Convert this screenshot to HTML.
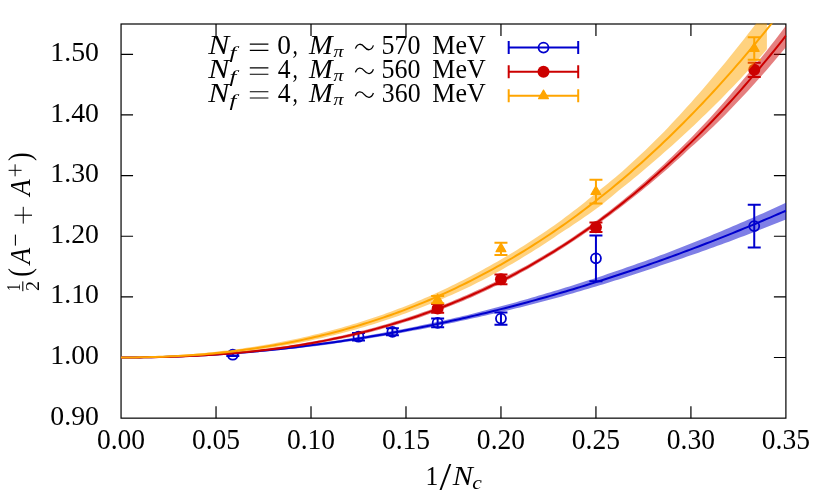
<!DOCTYPE html>
<html><head><meta charset="utf-8"><title>plot</title><style>html,body{margin:0;padding:0;background:#fff}body{width:829px;height:499px;position:relative;overflow:hidden;font-family:"Liberation Serif",serif}</style></head><body>
<svg width="829" height="499" viewBox="0 0 829 499" style="position:absolute;left:0;top:0">
<defs><clipPath id="cp"><rect x="120.45" y="23.40" width="666.05" height="395.35"/></clipPath><clipPath id="cpo"><rect x="0" y="0" width="766.9" height="499"/></clipPath></defs>
<rect width="829" height="499" fill="#fff"/>
<path d="M216.03 418.15v-12M216.03 24.0v12M311.01 418.15v-12M311.01 24.0v12M405.99 418.15v-12M405.99 24.0v12M500.96 418.15v-12M500.96 24.0v12M595.94 418.15v-12M595.94 24.0v12M690.92 418.15v-12M690.92 24.0v12M121.05 357.51h12M785.9 357.51h-12M121.05 296.87h12M785.9 296.87h-12M121.05 236.23h12M785.9 236.23h-12M121.05 175.60h12M785.9 175.60h-12M121.05 114.96h12M785.9 114.96h-12M121.05 54.32h12M785.9 54.32h-12" stroke="#000" stroke-width="1.2" fill="none"/>
<rect x="121.05" y="24.0" width="664.85" height="394.15" fill="none" stroke="#000" stroke-width="1.2"/>
<g clip-path="url(#cp)">
<path d="M121.05 357.21 L124.85 357.19 L128.65 357.15 L132.45 357.11 L136.25 357.06 L140.05 356.99 L143.84 356.92 L147.64 356.84 L151.44 356.75 L155.24 356.64 L159.04 356.53 L162.84 356.41 L166.64 356.28 L170.44 356.14 L174.24 355.99 L178.04 355.83 L181.84 355.66 L185.64 355.48 L189.43 355.29 L193.23 355.09 L197.03 354.88 L200.83 354.66 L204.63 354.43 L208.43 354.19 L212.23 353.94 L216.03 353.68 L219.83 353.42 L223.63 353.14 L227.43 352.85 L231.23 352.56 L235.02 352.25 L238.82 351.93 L242.62 351.61 L246.42 351.27 L250.22 350.93 L254.02 350.57 L257.82 350.21 L261.62 349.83 L265.42 349.45 L269.22 349.06 L273.02 348.65 L276.81 348.24 L280.61 347.82 L284.41 347.39 L288.21 346.95 L292.01 346.49 L295.81 346.03 L299.61 345.56 L303.41 345.08 L307.21 344.59 L311.01 344.09 L314.81 343.58 L318.61 343.07 L322.40 342.54 L326.20 342.00 L330.00 341.45 L333.80 340.90 L337.60 340.33 L341.40 339.75 L345.20 339.17 L349.00 338.57 L352.80 337.97 L356.60 337.35 L360.40 336.73 L364.20 336.09 L367.99 335.44 L371.79 334.78 L375.59 334.11 L379.39 333.43 L383.19 332.74 L386.99 332.05 L390.79 331.34 L394.59 330.62 L398.39 329.90 L402.19 329.16 L405.99 328.42 L409.78 327.66 L413.58 326.90 L417.38 326.13 L421.18 325.34 L424.98 324.55 L428.78 323.75 L432.58 322.94 L436.38 322.12 L440.18 321.28 L443.98 320.44 L447.78 319.60 L451.58 318.74 L455.37 317.87 L459.17 316.99 L462.97 316.10 L466.77 315.19 L470.57 314.24 L474.37 313.28 L478.17 312.31 L481.97 311.34 L485.77 310.35 L489.57 309.36 L493.37 308.35 L497.17 307.34 L500.96 306.32 L504.76 305.28 L508.56 304.24 L512.36 303.19 L516.16 302.13 L519.96 301.06 L523.76 299.98 L527.56 298.89 L531.36 297.79 L535.16 296.68 L538.96 295.57 L542.75 294.44 L546.55 293.31 L550.35 292.18 L554.15 291.04 L557.95 289.89 L561.75 288.73 L565.55 287.57 L569.35 286.39 L573.15 285.20 L576.95 284.01 L580.75 282.80 L584.55 281.59 L588.34 280.36 L592.14 279.13 L595.94 277.89 L599.74 276.64 L603.54 275.38 L607.34 274.11 L611.14 272.83 L614.94 271.54 L618.74 270.24 L622.54 268.93 L626.34 267.61 L630.14 266.29 L633.93 264.95 L637.73 263.61 L641.53 262.25 L645.33 260.89 L649.13 259.52 L652.93 258.13 L656.73 256.74 L660.53 255.34 L664.33 253.93 L668.13 252.48 L671.93 251.02 L675.72 249.55 L679.52 248.07 L683.32 246.58 L687.12 245.08 L690.92 243.57 L694.72 242.05 L698.52 240.52 L702.32 238.98 L706.12 237.44 L709.92 235.88 L713.72 234.32 L717.52 232.74 L721.31 231.16 L725.11 229.57 L728.91 227.96 L732.71 226.35 L736.51 224.73 L740.31 223.10 L744.11 221.47 L747.91 219.82 L751.71 218.16 L755.51 216.49 L759.31 214.82 L763.11 213.13 L766.90 211.44 L770.70 209.74 L774.50 208.02 L778.30 206.30 L782.10 204.57 L785.90 202.83 L785.90 219.43 L782.10 220.97 L778.30 222.51 L774.50 224.04 L770.70 225.55 L766.90 227.06 L763.11 228.56 L759.31 230.05 L755.51 231.53 L751.71 233.00 L747.91 234.47 L744.11 235.92 L740.31 237.36 L736.51 238.80 L732.71 240.22 L728.91 241.64 L725.11 243.05 L721.31 244.44 L717.52 245.83 L713.72 247.21 L709.92 248.58 L706.12 249.94 L702.32 251.30 L698.52 252.64 L694.72 253.97 L690.92 255.29 L687.12 256.61 L683.32 257.91 L679.52 259.21 L675.72 260.50 L671.93 261.77 L668.13 263.04 L664.33 264.31 L660.53 265.62 L656.73 266.92 L652.93 268.21 L649.13 269.49 L645.33 270.76 L641.53 272.03 L637.73 273.28 L633.93 274.52 L630.14 275.76 L626.34 276.98 L622.54 278.20 L618.74 279.40 L614.94 280.60 L611.14 281.79 L607.34 282.97 L603.54 284.14 L599.74 285.30 L595.94 286.45 L592.14 287.59 L588.34 288.72 L584.55 289.84 L580.75 290.96 L576.95 292.06 L573.15 293.15 L569.35 294.24 L565.55 295.31 L561.75 296.38 L557.95 297.44 L554.15 298.48 L550.35 299.52 L546.55 300.55 L542.75 301.56 L538.96 302.55 L535.16 303.54 L531.36 304.51 L527.56 305.48 L523.76 306.44 L519.96 307.38 L516.16 308.32 L512.36 309.25 L508.56 310.17 L504.76 311.08 L500.96 311.98 L497.17 312.87 L493.37 313.75 L489.57 314.62 L485.77 315.48 L481.97 316.33 L478.17 317.18 L474.37 318.01 L470.57 318.83 L466.77 319.65 L462.97 320.48 L459.17 321.31 L455.37 322.14 L451.58 322.96 L447.78 323.77 L443.98 324.56 L440.18 325.35 L436.38 326.13 L432.58 326.90 L428.78 327.67 L424.98 328.42 L421.18 329.16 L417.38 329.89 L413.58 330.61 L409.78 331.33 L405.99 332.03 L402.19 332.73 L398.39 333.41 L394.59 334.09 L390.79 334.75 L386.99 335.41 L383.19 336.05 L379.39 336.69 L375.59 337.32 L371.79 337.94 L367.99 338.54 L364.20 339.14 L360.40 339.73 L356.60 340.32 L352.80 340.89 L349.00 341.46 L345.20 342.02 L341.40 342.57 L337.60 343.10 L333.80 343.63 L330.00 344.15 L326.20 344.66 L322.40 345.16 L318.61 345.65 L314.81 346.13 L311.01 346.60 L307.21 347.06 L303.41 347.51 L299.61 347.96 L295.81 348.39 L292.01 348.81 L288.21 349.22 L284.41 349.63 L280.61 350.02 L276.81 350.41 L273.02 350.78 L269.22 351.15 L265.42 351.50 L261.62 351.85 L257.82 352.18 L254.02 352.51 L250.22 352.82 L246.42 353.13 L242.62 353.43 L238.82 353.72 L235.02 353.99 L231.23 354.26 L227.43 354.52 L223.63 354.77 L219.83 355.01 L216.03 355.24 L212.23 355.46 L208.43 355.67 L204.63 355.87 L200.83 356.06 L197.03 356.24 L193.23 356.41 L189.43 356.57 L185.64 356.72 L181.84 356.87 L178.04 357.00 L174.24 357.12 L170.44 357.23 L166.64 357.34 L162.84 357.43 L159.04 357.51 L155.24 357.59 L151.44 357.65 L147.64 357.71 L143.84 357.75 L140.05 357.78 L136.25 357.81 L132.45 357.82 L128.65 357.83 L124.85 357.83 L121.05 357.81Z" fill="#0000cd" fill-opacity="0.5"/>
<path d="M121.05 357.51 L124.85 357.51 L128.65 357.49 L132.45 357.47 L136.25 357.43 L140.05 357.39 L143.84 357.34 L147.64 357.27 L151.44 357.20 L155.24 357.12 L159.04 357.02 L162.84 356.92 L166.64 356.81 L170.44 356.69 L174.24 356.55 L178.04 356.41 L181.84 356.26 L185.64 356.10 L189.43 355.93 L193.23 355.75 L197.03 355.56 L200.83 355.36 L204.63 355.15 L208.43 354.93 L212.23 354.70 L216.03 354.46 L219.83 354.21 L223.63 353.95 L227.43 353.69 L231.23 353.41 L235.02 353.12 L238.82 352.83 L242.62 352.52 L246.42 352.20 L250.22 351.88 L254.02 351.54 L257.82 351.20 L261.62 350.84 L265.42 350.48 L269.22 350.10 L273.02 349.72 L276.81 349.32 L280.61 348.92 L284.41 348.51 L288.21 348.08 L292.01 347.65 L295.81 347.21 L299.61 346.76 L303.41 346.30 L307.21 345.83 L311.01 345.35 L314.81 344.86 L318.61 344.36 L322.40 343.85 L326.20 343.33 L330.00 342.80 L333.80 342.26 L337.60 341.72 L341.40 341.16 L345.20 340.59 L349.00 340.02 L352.80 339.43 L356.60 338.83 L360.40 338.23 L364.20 337.62 L367.99 336.99 L371.79 336.36 L375.59 335.71 L379.39 335.06 L383.19 334.40 L386.99 333.73 L390.79 333.05 L394.59 332.35 L398.39 331.65 L402.19 330.94 L405.99 330.22 L409.78 329.50 L413.58 328.76 L417.38 328.01 L421.18 327.25 L424.98 326.48 L428.78 325.71 L432.58 324.92 L436.38 324.12 L440.18 323.32 L443.98 322.50 L447.78 321.68 L451.58 320.85 L455.37 320.00 L459.17 319.15 L462.97 318.29 L466.77 317.42 L470.57 316.54 L474.37 315.65 L478.17 314.75 L481.97 313.84 L485.77 312.92 L489.57 311.99 L493.37 311.05 L497.17 310.10 L500.96 309.15 L504.76 308.18 L508.56 307.20 L512.36 306.22 L516.16 305.22 L519.96 304.22 L523.76 303.21 L527.56 302.18 L531.36 301.15 L535.16 300.11 L538.96 299.06 L542.75 298.00 L546.55 296.93 L550.35 295.85 L554.15 294.76 L557.95 293.66 L561.75 292.56 L565.55 291.44 L569.35 290.31 L573.15 289.18 L576.95 288.03 L580.75 286.88 L584.55 285.72 L588.34 284.54 L592.14 283.36 L595.94 282.17 L599.74 280.97 L603.54 279.76 L607.34 278.54 L611.14 277.31 L614.94 276.07 L618.74 274.82 L622.54 273.56 L626.34 272.30 L630.14 271.02 L633.93 269.74 L637.73 268.44 L641.53 267.14 L645.33 265.83 L649.13 264.50 L652.93 263.17 L656.73 261.83 L660.53 260.48 L664.33 259.12 L668.13 257.75 L671.93 256.37 L675.72 254.99 L679.52 253.59 L683.32 252.18 L687.12 250.77 L690.92 249.34 L694.72 247.91 L698.52 246.47 L702.32 245.02 L706.12 243.55 L709.92 242.08 L713.72 240.60 L717.52 239.11 L721.31 237.62 L725.11 236.11 L728.91 234.59 L732.71 233.06 L736.51 231.53 L740.31 229.98 L744.11 228.43 L747.91 226.87 L751.71 225.30 L755.51 223.71 L759.31 222.12 L763.11 220.52 L766.90 218.91 L770.70 217.30 L774.50 215.67 L778.30 214.03 L782.10 212.39 L785.90 210.73" fill="none" stroke="#0000cd" stroke-width="2"/>
</g>
<path d="M232.79 353.51V355.93M226.29 353.51H239.29M226.29 355.93H239.29" stroke="#0000cd" stroke-width="2" fill="none"/>
<circle cx="232.79" cy="354.72" r="5.0" fill="none" stroke="#0000cd" stroke-width="1.8"/>
<path d="M358.50 332.95V340.47M352.00 332.95H365.00M352.00 340.47H365.00" stroke="#0000cd" stroke-width="2" fill="none"/>
<circle cx="358.50" cy="336.71" r="5.0" fill="none" stroke="#0000cd" stroke-width="1.8"/>
<path d="M392.42 328.34V335.26M385.92 328.34H398.92M385.92 335.26H398.92" stroke="#0000cd" stroke-width="2" fill="none"/>
<circle cx="392.42" cy="331.80" r="5.0" fill="none" stroke="#0000cd" stroke-width="1.8"/>
<path d="M437.65 318.58V327.31M431.15 318.58H444.15M431.15 327.31H444.15" stroke="#0000cd" stroke-width="2" fill="none"/>
<circle cx="437.65" cy="322.95" r="5.0" fill="none" stroke="#0000cd" stroke-width="1.8"/>
<path d="M500.96 312.40V324.77M494.46 312.40H507.46M494.46 324.77H507.46" stroke="#0000cd" stroke-width="2" fill="none"/>
<circle cx="500.96" cy="318.58" r="5.0" fill="none" stroke="#0000cd" stroke-width="1.8"/>
<path d="M595.94 235.57V281.17M589.44 235.57H602.44M589.44 281.17H602.44" stroke="#0000cd" stroke-width="2" fill="none"/>
<circle cx="595.94" cy="258.37" r="5.0" fill="none" stroke="#0000cd" stroke-width="1.8"/>
<path d="M754.24 204.64V247.45M747.74 204.64H760.74M747.74 247.45H760.74" stroke="#0000cd" stroke-width="2" fill="none"/>
<circle cx="754.24" cy="226.05" r="5.0" fill="none" stroke="#0000cd" stroke-width="1.8"/>
<g clip-path="url(#cp)">
<path d="M121.05 357.21 L124.85 357.19 L128.65 357.15 L132.45 357.11 L136.25 357.06 L140.05 357.01 L143.84 356.94 L147.64 356.86 L151.44 356.78 L155.24 356.68 L159.04 356.58 L162.84 356.47 L166.64 356.34 L170.44 356.21 L174.24 356.06 L178.04 355.91 L181.84 355.74 L185.64 355.56 L189.43 355.37 L193.23 355.17 L197.03 354.96 L200.83 354.73 L204.63 354.49 L208.43 354.24 L212.23 353.98 L216.03 353.70 L219.83 353.41 L223.63 353.11 L227.43 352.79 L231.23 352.46 L235.02 352.11 L238.82 351.75 L242.62 351.38 L246.42 350.99 L250.22 350.58 L254.02 350.16 L257.82 349.73 L261.62 349.27 L265.42 348.81 L269.22 348.32 L273.02 347.82 L276.81 347.30 L280.61 346.77 L284.41 346.21 L288.21 345.64 L292.01 345.06 L295.81 344.45 L299.61 343.83 L303.41 343.18 L307.21 342.52 L311.01 341.83 L314.81 341.13 L318.61 340.41 L322.40 339.67 L326.20 338.90 L330.00 338.12 L333.80 337.32 L337.60 336.50 L341.40 335.66 L345.20 334.79 L349.00 333.91 L352.80 333.00 L356.60 332.07 L360.40 331.12 L364.20 330.16 L367.99 329.17 L371.79 328.16 L375.59 327.13 L379.39 326.07 L383.19 324.99 L386.99 323.89 L390.79 322.76 L394.59 321.61 L398.39 320.43 L402.19 319.24 L405.99 318.01 L409.78 316.76 L413.58 315.49 L417.38 314.19 L421.18 312.87 L424.98 311.52 L428.78 310.15 L432.58 308.76 L436.38 307.34 L440.18 305.89 L443.98 304.41 L447.78 302.91 L451.58 301.38 L455.37 299.82 L459.17 298.23 L462.97 296.62 L466.77 294.97 L470.57 293.30 L474.37 291.60 L478.17 289.87 L481.97 288.13 L485.77 286.36 L489.57 284.56 L493.37 282.73 L497.17 280.87 L500.96 278.98 L504.76 277.06 L508.56 275.10 L512.36 273.12 L516.16 271.11 L519.96 269.06 L523.76 266.99 L527.56 264.88 L531.36 262.74 L535.16 260.56 L538.96 258.36 L542.75 256.12 L546.55 253.85 L550.35 251.54 L554.15 249.20 L557.95 246.83 L561.75 244.41 L565.55 241.95 L569.35 239.45 L573.15 236.91 L576.95 234.34 L580.75 231.74 L584.55 229.10 L588.34 226.42 L592.14 223.71 L595.94 220.97 L599.74 218.18 L603.54 215.32 L607.34 212.41 L611.14 209.47 L614.94 206.49 L618.74 203.48 L622.54 200.42 L626.34 197.33 L630.14 194.20 L633.93 191.03 L637.73 187.83 L641.53 184.56 L645.33 181.22 L649.13 177.84 L652.93 174.42 L656.73 170.96 L660.53 167.46 L664.33 163.92 L668.13 160.34 L671.93 156.72 L675.72 153.06 L679.52 149.36 L683.32 145.62 L687.12 141.83 L690.92 137.99 L694.72 134.05 L698.52 130.07 L702.32 126.05 L706.12 121.98 L709.92 117.88 L713.72 113.73 L717.52 109.53 L721.31 105.27 L725.11 100.91 L728.91 96.51 L732.71 92.06 L736.51 87.57 L740.31 83.04 L744.11 78.52 L747.91 73.95 L751.71 69.34 L755.51 64.68 L759.31 59.97 L763.11 55.22 L766.90 50.43 L770.70 45.58 L774.50 40.69 L778.30 35.76 L782.10 30.77 L785.90 25.74 L785.90 47.23 L782.10 51.80 L778.30 56.33 L774.50 60.82 L770.70 65.25 L766.90 69.64 L763.11 73.99 L759.31 78.28 L755.51 82.53 L751.71 86.74 L747.91 90.89 L744.11 95.01 L740.31 99.07 L736.51 103.11 L732.71 107.11 L728.91 111.06 L725.11 114.97 L721.31 118.84 L717.52 122.58 L713.72 126.25 L709.92 129.87 L706.12 133.44 L702.32 136.97 L698.52 140.46 L694.72 143.91 L690.92 147.32 L687.12 150.85 L683.32 154.39 L679.52 157.89 L675.72 161.35 L671.93 164.77 L668.13 168.14 L664.33 171.48 L660.53 174.78 L656.73 178.03 L652.93 181.25 L649.13 184.42 L645.33 187.56 L641.53 190.66 L637.73 193.75 L633.93 196.82 L630.14 199.86 L626.34 202.85 L622.54 205.81 L618.74 208.73 L614.94 211.62 L611.14 214.46 L607.34 217.27 L603.54 220.04 L599.74 222.78 L595.94 225.52 L592.14 228.23 L588.34 230.91 L584.55 233.54 L580.75 236.15 L576.95 238.71 L573.15 241.24 L569.35 243.74 L565.55 246.20 L561.75 248.63 L557.95 251.03 L554.15 253.42 L550.35 255.76 L546.55 258.08 L542.75 260.36 L538.96 262.61 L535.16 264.83 L531.36 267.01 L527.56 269.16 L523.76 271.28 L519.96 273.36 L516.16 275.42 L512.36 277.44 L508.56 279.43 L504.76 281.39 L500.96 283.32 L497.17 285.22 L493.37 287.09 L489.57 288.93 L485.77 290.74 L481.97 292.52 L478.17 294.26 L474.37 295.97 L470.57 297.64 L466.77 299.29 L462.97 300.90 L459.17 302.49 L455.37 304.05 L451.58 305.59 L447.78 307.09 L443.98 308.57 L440.18 310.02 L436.38 311.44 L432.58 312.84 L428.78 314.21 L424.98 315.56 L421.18 316.88 L417.38 318.16 L413.58 319.43 L409.78 320.66 L405.99 321.87 L402.19 323.06 L398.39 324.22 L394.59 325.36 L390.79 326.47 L386.99 327.56 L383.19 328.62 L379.39 329.66 L375.59 330.68 L371.79 331.68 L367.99 332.65 L364.20 333.60 L360.40 334.53 L356.60 335.43 L352.80 336.30 L349.00 337.16 L345.20 338.00 L341.40 338.81 L337.60 339.60 L333.80 340.37 L330.00 341.12 L326.20 341.85 L322.40 342.56 L318.61 343.26 L314.81 343.93 L311.01 344.58 L307.21 345.21 L303.41 345.83 L299.61 346.42 L295.81 347.00 L292.01 347.57 L288.21 348.11 L284.41 348.64 L280.61 349.15 L276.81 349.64 L273.02 350.12 L269.22 350.58 L265.42 351.02 L261.62 351.44 L257.82 351.85 L254.02 352.25 L250.22 352.63 L246.42 352.99 L242.62 353.34 L238.82 353.67 L235.02 353.99 L231.23 354.29 L227.43 354.58 L223.63 354.86 L219.83 355.12 L216.03 355.36 L212.23 355.60 L208.43 355.82 L204.63 356.03 L200.83 356.22 L197.03 356.41 L193.23 356.58 L189.43 356.74 L185.64 356.88 L181.84 357.02 L178.04 357.14 L174.24 357.26 L170.44 357.36 L166.64 357.45 L162.84 357.53 L159.04 357.60 L155.24 357.67 L151.44 357.72 L147.64 357.76 L143.84 357.79 L140.05 357.82 L136.25 357.83 L132.45 357.84 L128.65 357.84 L124.85 357.83 L121.05 357.81Z" fill="#cc0000" fill-opacity="0.5"/>
<path d="M121.05 357.51 L124.85 357.51 L128.65 357.50 L132.45 357.48 L136.25 357.45 L140.05 357.41 L143.84 357.37 L147.64 357.31 L151.44 357.25 L155.24 357.18 L159.04 357.09 L162.84 357.00 L166.64 356.90 L170.44 356.78 L174.24 356.66 L178.04 356.53 L181.84 356.38 L185.64 356.22 L189.43 356.05 L193.23 355.87 L197.03 355.68 L200.83 355.48 L204.63 355.26 L208.43 355.03 L212.23 354.79 L216.03 354.53 L219.83 354.26 L223.63 353.98 L227.43 353.69 L231.23 353.38 L235.02 353.05 L238.82 352.71 L242.62 352.36 L246.42 351.99 L250.22 351.60 L254.02 351.21 L257.82 350.79 L261.62 350.36 L265.42 349.91 L269.22 349.45 L273.02 348.97 L276.81 348.47 L280.61 347.96 L284.41 347.43 L288.21 346.88 L292.01 346.31 L295.81 345.73 L299.61 345.13 L303.41 344.50 L307.21 343.86 L311.01 343.21 L314.81 342.53 L318.61 341.83 L322.40 341.12 L326.20 340.38 L330.00 339.62 L333.80 338.85 L337.60 338.05 L341.40 337.23 L345.20 336.39 L349.00 335.53 L352.80 334.65 L356.60 333.75 L360.40 332.83 L364.20 331.88 L367.99 330.91 L371.79 329.92 L375.59 328.90 L379.39 327.87 L383.19 326.81 L386.99 325.72 L390.79 324.61 L394.59 323.48 L398.39 322.33 L402.19 321.15 L405.99 319.94 L409.78 318.71 L413.58 317.46 L417.38 316.18 L421.18 314.87 L424.98 313.54 L428.78 312.18 L432.58 310.80 L436.38 309.39 L440.18 307.95 L443.98 306.49 L447.78 305.00 L451.58 303.48 L455.37 301.94 L459.17 300.36 L462.97 298.76 L466.77 297.13 L470.57 295.47 L474.37 293.78 L478.17 292.07 L481.97 290.32 L485.77 288.55 L489.57 286.74 L493.37 284.91 L497.17 283.05 L500.96 281.15 L504.76 279.23 L508.56 277.27 L512.36 275.28 L516.16 273.26 L519.96 271.21 L523.76 269.13 L527.56 267.02 L531.36 264.87 L535.16 262.69 L538.96 260.48 L542.75 258.24 L546.55 255.96 L550.35 253.65 L554.15 251.31 L557.95 248.93 L561.75 246.52 L565.55 244.07 L569.35 241.59 L573.15 239.08 L576.95 236.53 L580.75 233.94 L584.55 231.32 L588.34 228.67 L592.14 225.97 L595.94 223.24 L599.74 220.48 L603.54 217.68 L607.34 214.84 L611.14 211.97 L614.94 209.05 L618.74 206.10 L622.54 203.12 L626.34 200.09 L630.14 197.03 L633.93 193.93 L637.73 190.79 L641.53 187.61 L645.33 184.39 L649.13 181.13 L652.93 177.83 L656.73 174.50 L660.53 171.12 L664.33 167.70 L668.13 164.24 L671.93 160.75 L675.72 157.21 L679.52 153.63 L683.32 150.00 L687.12 146.34 L690.92 142.63 L694.72 138.89 L698.52 135.10 L702.32 131.27 L706.12 127.39 L709.92 123.47 L713.72 119.51 L717.52 115.51 L721.31 111.46 L725.11 107.37 L728.91 103.23 L732.71 99.05 L736.51 94.82 L740.31 90.55 L744.11 86.24 L747.91 81.88 L751.71 77.47 L755.51 73.02 L759.31 68.52 L763.11 63.98 L766.90 59.39 L770.70 54.75 L774.50 50.07 L778.30 45.34 L782.10 40.56 L785.90 35.73" fill="none" stroke="#cc0000" stroke-width="2"/>
</g>
<path d="M437.65 304.03V312.76M431.15 304.03H444.15M431.15 312.76H444.15" stroke="#cc0000" stroke-width="2" fill="none"/>
<circle cx="437.65" cy="308.39" r="6" fill="#cc0000"/>
<path d="M500.96 274.44V284.14M494.46 274.44H507.46M494.46 284.14H507.46" stroke="#cc0000" stroke-width="2" fill="none"/>
<circle cx="500.96" cy="279.29" r="6" fill="#cc0000"/>
<path d="M595.94 222.41V232.11M589.44 222.41H602.44M589.44 232.11H602.44" stroke="#cc0000" stroke-width="2" fill="none"/>
<circle cx="595.94" cy="227.26" r="6" fill="#cc0000"/>
<path d="M754.24 62.63V76.94M747.74 62.63H760.74M747.74 76.94H760.74" stroke="#cc0000" stroke-width="2" fill="none"/>
<circle cx="754.24" cy="69.78" r="6" fill="#cc0000"/>
<g clip-path="url(#cp)">
<path d="M121.05 357.11 L124.85 357.07 L128.65 357.01 L132.45 356.94 L136.25 356.85 L140.05 356.76 L143.84 356.65 L147.64 356.52 L151.44 356.38 L155.24 356.23 L159.04 356.06 L162.84 355.88 L166.64 355.69 L170.44 355.48 L174.24 355.25 L178.04 355.01 L181.84 354.75 L185.64 354.48 L189.43 354.19 L193.23 353.89 L197.03 353.57 L200.83 353.23 L204.63 352.88 L208.43 352.51 L212.23 352.13 L216.03 351.73 L219.83 351.31 L223.63 350.87 L227.43 350.42 L231.23 349.94 L235.02 349.45 L238.82 348.95 L242.62 348.42 L246.42 347.87 L250.22 347.30 L254.02 346.71 L257.82 346.10 L261.62 345.48 L265.42 344.83 L269.22 344.17 L273.02 343.49 L276.81 342.78 L280.61 342.06 L284.41 341.32 L288.21 340.55 L292.01 339.77 L295.81 338.96 L299.61 338.14 L303.41 337.29 L307.21 336.42 L311.01 335.53 L314.81 334.62 L318.61 333.69 L322.40 332.74 L326.20 331.76 L330.00 330.76 L333.80 329.74 L337.60 328.70 L341.40 327.63 L345.20 326.54 L349.00 325.43 L352.80 324.29 L356.60 323.13 L360.40 321.95 L364.20 320.75 L367.99 319.52 L371.79 318.28 L375.59 317.00 L379.39 315.71 L383.19 314.38 L386.99 313.04 L390.79 311.66 L394.59 310.27 L398.39 308.84 L402.19 307.40 L405.99 305.92 L409.78 304.42 L413.58 302.90 L417.38 301.34 L421.18 299.75 L424.98 298.11 L428.78 296.44 L432.58 294.74 L436.38 293.02 L440.18 291.26 L443.98 289.48 L447.78 287.68 L451.58 285.84 L455.37 283.98 L459.17 282.09 L462.97 280.17 L466.77 278.22 L470.57 276.24 L474.37 274.25 L478.17 272.23 L481.97 270.19 L485.77 268.11 L489.57 266.00 L493.37 263.86 L497.17 261.70 L500.96 259.50 L504.76 257.27 L508.56 255.01 L512.36 252.72 L516.16 250.40 L519.96 248.05 L523.76 245.67 L527.56 243.25 L531.36 240.81 L535.16 238.33 L538.96 235.82 L542.75 233.27 L546.55 230.68 L550.35 228.06 L554.15 225.40 L557.95 222.71 L561.75 219.95 L565.55 217.11 L569.35 214.24 L573.15 211.33 L576.95 208.39 L580.75 205.42 L584.55 202.41 L588.34 199.37 L592.14 196.29 L595.94 193.18 L599.74 190.03 L603.54 187.00 L607.34 183.95 L611.14 180.86 L614.94 177.73 L618.74 174.57 L622.54 171.25 L626.34 167.82 L630.14 164.36 L633.93 160.87 L637.73 157.34 L641.53 153.77 L645.33 150.16 L649.13 146.52 L652.93 142.84 L656.73 139.12 L660.53 135.34 L664.33 131.39 L668.13 127.40 L671.93 123.36 L675.72 119.30 L679.52 115.19 L683.32 111.04 L687.12 106.86 L690.92 102.63 L694.72 98.37 L698.52 94.07 L702.32 89.71 L706.12 85.30 L709.92 80.85 L713.72 76.36 L717.52 71.83 L721.31 67.25 L725.11 62.64 L728.91 57.99 L732.71 53.30 L736.51 48.56 L740.31 43.79 L744.11 38.97 L747.91 34.11 L751.71 29.21 L755.51 24.27 L759.31 19.35 L763.11 14.39 L766.90 9.38 L770.70 4.35 L774.50 -0.73 L778.30 -5.85 L782.10 -11.01 L785.90 -16.22 L785.90 26.77 L782.10 31.37 L778.30 35.94 L774.50 40.46 L770.70 44.93 L766.90 49.36 L763.11 53.74 L759.31 58.07 L755.51 62.36 L751.71 66.56 L747.91 70.72 L744.11 74.83 L740.31 78.90 L736.51 82.93 L732.71 86.92 L728.91 90.87 L725.11 94.77 L721.31 98.64 L717.52 102.46 L713.72 106.25 L709.92 109.99 L706.12 113.70 L702.32 117.36 L698.52 121.01 L694.72 124.65 L690.92 128.24 L687.12 131.80 L683.32 135.32 L679.52 138.80 L675.72 142.25 L671.93 145.65 L668.13 149.02 L664.33 152.35 L660.53 155.64 L656.73 158.98 L652.93 162.30 L649.13 165.58 L645.33 168.82 L641.53 172.03 L637.73 175.20 L633.93 178.33 L630.14 181.43 L626.34 184.49 L622.54 187.51 L618.74 190.58 L614.94 193.78 L611.14 196.95 L607.34 200.08 L603.54 203.17 L599.74 206.21 L595.94 208.98 L592.14 211.71 L588.34 214.40 L584.55 217.07 L580.75 219.69 L576.95 222.29 L573.15 224.85 L569.35 227.38 L565.55 229.87 L561.75 232.33 L557.95 234.85 L554.15 237.43 L550.35 239.97 L546.55 242.48 L542.75 244.95 L538.96 247.40 L535.16 249.81 L531.36 252.20 L527.56 254.55 L523.76 256.87 L519.96 259.16 L516.16 261.42 L512.36 263.65 L508.56 265.85 L504.76 268.01 L500.96 270.15 L497.17 272.26 L493.37 274.33 L489.57 276.38 L485.77 278.39 L481.97 280.38 L478.17 282.33 L474.37 284.26 L470.57 286.16 L466.77 287.97 L462.97 289.74 L459.17 291.49 L455.37 293.21 L451.58 294.89 L447.78 296.55 L443.98 298.19 L440.18 299.79 L436.38 301.37 L432.58 302.92 L428.78 304.44 L424.98 305.94 L421.18 307.41 L417.38 308.88 L413.58 310.33 L409.78 311.77 L405.99 313.17 L402.19 314.55 L398.39 315.90 L394.59 317.23 L390.79 318.53 L386.99 319.81 L383.19 321.06 L379.39 322.29 L375.59 323.49 L371.79 324.67 L367.99 325.82 L364.20 326.95 L360.40 328.06 L356.60 329.15 L352.80 330.21 L349.00 331.25 L345.20 332.27 L341.40 333.26 L337.60 334.24 L333.80 335.18 L330.00 336.11 L326.20 337.01 L322.40 337.90 L318.61 338.75 L314.81 339.59 L311.01 340.41 L307.21 341.20 L303.41 341.98 L299.61 342.73 L295.81 343.46 L292.01 344.18 L288.21 344.88 L284.41 345.55 L280.61 346.21 L276.81 346.84 L273.02 347.46 L269.22 348.05 L265.42 348.63 L261.62 349.18 L257.82 349.72 L254.02 350.24 L250.22 350.74 L246.42 351.22 L242.62 351.68 L238.82 352.12 L235.02 352.55 L231.23 352.97 L227.43 353.36 L223.63 353.74 L219.83 354.10 L216.03 354.44 L212.23 354.77 L208.43 355.08 L204.63 355.37 L200.83 355.64 L197.03 355.90 L193.23 356.15 L189.43 356.37 L185.64 356.58 L181.84 356.78 L178.04 356.96 L174.24 357.12 L170.44 357.27 L166.64 357.41 L162.84 357.53 L159.04 357.63 L155.24 357.72 L151.44 357.80 L147.64 357.86 L143.84 357.91 L140.05 357.94 L136.25 357.96 L132.45 357.97 L128.65 357.96 L124.85 357.94 L121.05 357.91Z" fill="#ffa500" fill-opacity="0.5" clip-path="url(#cpo)"/>
<path d="M121.05 357.51 L124.85 357.51 L128.65 357.49 L132.45 357.45 L136.25 357.41 L140.05 357.35 L143.84 357.28 L147.64 357.19 L151.44 357.09 L155.24 356.98 L159.04 356.85 L162.84 356.70 L166.64 356.55 L170.44 356.37 L174.24 356.19 L178.04 355.98 L181.84 355.77 L185.64 355.53 L189.43 355.28 L193.23 355.02 L197.03 354.74 L200.83 354.44 L204.63 354.13 L208.43 353.80 L212.23 353.45 L216.03 353.08 L219.83 352.70 L223.63 352.30 L227.43 351.89 L231.23 351.45 L235.02 351.00 L238.82 350.53 L242.62 350.05 L246.42 349.54 L250.22 349.02 L254.02 348.47 L257.82 347.91 L261.62 347.33 L265.42 346.73 L269.22 346.11 L273.02 345.47 L276.81 344.81 L280.61 344.13 L284.41 343.43 L288.21 342.71 L292.01 341.97 L295.81 341.21 L299.61 340.43 L303.41 339.63 L307.21 338.81 L311.01 337.96 L314.81 337.09 L318.61 336.21 L322.40 335.30 L326.20 334.36 L330.00 333.41 L333.80 332.43 L337.60 331.43 L341.40 330.41 L345.20 329.37 L349.00 328.30 L352.80 327.21 L356.60 326.09 L360.40 324.95 L364.20 323.79 L367.99 322.60 L371.79 321.39 L375.59 320.16 L379.39 318.90 L383.19 317.62 L386.99 316.31 L390.79 314.97 L394.59 313.61 L398.39 312.23 L402.19 310.82 L405.99 309.38 L409.78 307.92 L413.58 306.43 L417.38 304.92 L421.18 303.38 L424.98 301.81 L428.78 300.21 L432.58 298.59 L436.38 296.94 L440.18 295.27 L443.98 293.56 L447.78 291.83 L451.58 290.07 L455.37 288.29 L459.17 286.47 L462.97 284.63 L466.77 282.75 L470.57 280.85 L474.37 278.92 L478.17 276.96 L481.97 274.97 L485.77 272.96 L489.57 270.91 L493.37 268.83 L497.17 266.72 L500.96 264.58 L504.76 262.42 L508.56 260.22 L512.36 257.99 L516.16 255.73 L519.96 253.44 L523.76 251.11 L527.56 248.76 L531.36 246.37 L535.16 243.96 L538.96 241.51 L542.75 239.02 L546.55 236.51 L550.35 233.96 L554.15 231.38 L557.95 228.77 L561.75 226.13 L565.55 223.45 L569.35 220.74 L573.15 217.99 L576.95 215.21 L580.75 212.40 L584.55 209.56 L588.34 206.67 L592.14 203.76 L595.94 200.81 L599.74 197.82 L603.54 194.80 L607.34 191.75 L611.14 188.66 L614.94 185.53 L618.74 182.37 L622.54 179.17 L626.34 175.94 L630.14 172.67 L633.93 169.37 L637.73 166.02 L641.53 162.64 L645.33 159.23 L649.13 155.78 L652.93 152.28 L656.73 148.76 L660.53 145.19 L664.33 141.59 L668.13 137.95 L671.93 134.27 L675.72 130.55 L679.52 126.79 L683.32 123.00 L687.12 119.17 L690.92 115.29 L694.72 111.38 L698.52 107.43 L702.32 103.44 L706.12 99.41 L709.92 95.34 L713.72 91.23 L717.52 87.08 L721.31 82.89 L725.11 78.65 L728.91 74.38 L732.71 70.07 L736.51 65.71 L740.31 61.32 L744.11 56.88 L747.91 52.40 L751.71 47.88 L755.51 43.32 L759.31 38.71 L763.11 34.06 L766.90 29.37 L770.70 24.64 L774.50 19.86 L778.30 15.04 L782.10 10.18 L785.90 5.28" fill="none" stroke="#ffa500" stroke-width="2"/>
</g>
<path d="M437.65 296.08V303.36M431.15 296.08H444.15M431.15 303.36H444.15" stroke="#ffa500" stroke-width="2" fill="none"/>
<path d="M437.65 294.02L442.55 302.57H432.75Z" fill="#ffa500" stroke="#ffa500" stroke-width="1.2" stroke-linejoin="round"/>
<path d="M500.96 242.66V254.91M494.46 242.66H507.46M494.46 254.91H507.46" stroke="#ffa500" stroke-width="2" fill="none"/>
<path d="M500.96 243.09L505.86 251.64H496.06Z" fill="#ffa500" stroke="#ffa500" stroke-width="1.2" stroke-linejoin="round"/>
<path d="M595.94 179.72V203.61M589.44 179.72H602.44M589.44 203.61H602.44" stroke="#ffa500" stroke-width="2" fill="none"/>
<path d="M595.94 185.97L600.84 194.52H591.04Z" fill="#ffa500" stroke="#ffa500" stroke-width="1.2" stroke-linejoin="round"/>
<path d="M754.24 37.22V59.78M747.74 37.22H760.74M747.74 59.78H760.74" stroke="#ffa500" stroke-width="2" fill="none"/>
<path d="M754.24 42.80L759.14 51.35H749.34Z" fill="#ffa500" stroke="#ffa500" stroke-width="1.2" stroke-linejoin="round"/>
<path d="M508.7 47.6H578.2M508.7 41.1v13M578.2 41.1v13" stroke="#0000cd" stroke-width="2" fill="none"/>
<circle cx="543.5" cy="47.6" r="5.0" fill="none" stroke="#0000cd" stroke-width="1.8"/>
<path d="M508.7 71.7H578.2M508.7 65.2v13M578.2 65.2v13" stroke="#cc0000" stroke-width="2" fill="none"/>
<circle cx="543.5" cy="71.7" r="6" fill="#cc0000"/>
<path d="M508.7 95.8H578.2M508.7 89.3v13M578.2 89.3v13" stroke="#ffa500" stroke-width="2" fill="none"/>
<path d="M543.5 90.1L548.4 98.64999999999999H538.6Z" fill="#ffa500" stroke="#ffa500" stroke-width="1.2" stroke-linejoin="round"/>
<g font-family="Liberation Serif, serif" fill="#000" opacity="0.999">
<text transform="translate(50.29 424.75) scale(1.0300 1.0414)" font-size="27">0.90</text>
<text transform="translate(50.29 364.11) scale(1.0300 1.0414)" font-size="27">1.00</text>
<text transform="translate(50.29 303.47) scale(1.0300 1.0414)" font-size="27">1.10</text>
<text transform="translate(50.29 242.83) scale(1.0300 1.0414)" font-size="27">1.20</text>
<text transform="translate(50.29 182.20) scale(1.0300 1.0414)" font-size="27">1.30</text>
<text transform="translate(50.29 121.56) scale(1.0300 1.0414)" font-size="27">1.40</text>
<text transform="translate(50.29 60.92) scale(1.0300 1.0414)" font-size="27">1.50</text>
<text transform="translate(96.95 448.50) scale(1.0200 1.0693)" font-size="27">0.00</text>
<text transform="translate(191.93 448.50) scale(1.0200 1.0693)" font-size="27">0.05</text>
<text transform="translate(286.91 448.50) scale(1.0200 1.0693)" font-size="27">0.10</text>
<text transform="translate(381.89 448.50) scale(1.0200 1.0693)" font-size="27">0.15</text>
<text transform="translate(476.87 448.50) scale(1.0200 1.0693)" font-size="27">0.20</text>
<text transform="translate(571.85 448.50) scale(1.0200 1.0693)" font-size="27">0.25</text>
<text transform="translate(666.82 448.50) scale(1.0200 1.0693)" font-size="27">0.30</text>
<text transform="translate(761.80 448.50) scale(1.0200 1.0693)" font-size="27">0.35</text>
<text transform="translate(425.45 484.90) scale(0.9468 1.0211)" font-size="27">1</text>
<text transform="translate(439.60 490.11) scale(1.5730 1.4949)" font-size="27">/</text>
<text transform="translate(452.82 484.90) scale(1.1203 1.0295)" font-size="27" font-style="italic">N</text>
<text transform="translate(472.13 488.70) scale(1.1381 1.0000)" font-size="19" font-style="italic">c</text>
<text transform="translate(208.33 54.00) scale(1.1666 1.0181)" font-size="27" font-style="italic">N</text>
<text transform="translate(229.62 58.30) scale(1.4217 1.0000)" font-size="17.5" font-style="italic">f</text>
<path d="M249.8 44.10H268.4M249.8 50.40H268.4" stroke="#000" stroke-width="1.1" fill="none"/>
<text transform="translate(277.26 54.00) scale(1.0137 1.0136)" font-size="27">0</text>
<text transform="translate(292.38 54.00) scale(0.7958 1.0000)" font-size="27">,</text>
<text transform="translate(308.93 54.00) scale(1.0521 1.0181)" font-size="27" font-style="italic">M</text>
<text transform="translate(333.39 57.40) scale(1.1350 1.0000)" font-size="17.5" font-style="italic">π</text>
<path d="M355.4 48.60C357.5 42.80 361.5 43.40 364.4 47.00S371.3 51.20 373.4 45.40" stroke="#000" stroke-width="1.3" fill="none"/>
<text transform="translate(381.59 54.00) scale(0.9630 1.0136)" font-size="27">570</text>
<text transform="translate(432.35 54.00) scale(0.9612 1.0181)" font-size="27">MeV</text>
<text transform="translate(208.33 77.80) scale(1.1666 1.0181)" font-size="27" font-style="italic">N</text>
<text transform="translate(229.62 82.10) scale(1.4217 1.0000)" font-size="17.5" font-style="italic">f</text>
<path d="M249.8 67.90H268.4M249.8 74.20H268.4" stroke="#000" stroke-width="1.1" fill="none"/>
<text transform="translate(277.70 77.80) scale(0.9481 1.0241)" font-size="27">4</text>
<text transform="translate(292.38 77.80) scale(0.7958 1.0000)" font-size="27">,</text>
<text transform="translate(308.93 77.80) scale(1.0521 1.0181)" font-size="27" font-style="italic">M</text>
<text transform="translate(333.39 81.20) scale(1.1350 1.0000)" font-size="17.5" font-style="italic">π</text>
<path d="M355.4 72.40C357.5 66.60 361.5 67.20 364.4 70.80S371.3 75.00 373.4 69.20" stroke="#000" stroke-width="1.3" fill="none"/>
<text transform="translate(381.59 77.80) scale(0.9630 1.0136)" font-size="27">560</text>
<text transform="translate(432.35 77.80) scale(0.9612 1.0181)" font-size="27">MeV</text>
<text transform="translate(208.33 101.60) scale(1.1666 1.0181)" font-size="27" font-style="italic">N</text>
<text transform="translate(229.62 105.90) scale(1.4217 1.0000)" font-size="17.5" font-style="italic">f</text>
<path d="M249.8 91.70H268.4M249.8 98.00H268.4" stroke="#000" stroke-width="1.1" fill="none"/>
<text transform="translate(277.70 101.60) scale(0.9481 1.0241)" font-size="27">4</text>
<text transform="translate(292.38 101.60) scale(0.7958 1.0000)" font-size="27">,</text>
<text transform="translate(308.93 101.60) scale(1.0521 1.0181)" font-size="27" font-style="italic">M</text>
<text transform="translate(333.39 105.00) scale(1.1350 1.0000)" font-size="17.5" font-style="italic">π</text>
<path d="M355.4 96.20C357.5 90.40 361.5 91.00 364.4 94.60S371.3 98.80 373.4 93.00" stroke="#000" stroke-width="1.3" fill="none"/>
<text transform="translate(381.86 101.60) scale(0.9560 1.0136)" font-size="27">360</text>
<text transform="translate(432.35 101.60) scale(0.9612 1.0181)" font-size="27">MeV</text>
<g transform="translate(30 300) rotate(-90)"><text transform="translate(9.10 -10.20) scale(0.7774 0.9567)" font-size="19">1</text><path d="M8.80 -7.2H18.60" stroke="#000" stroke-width="1.1"/><text transform="translate(9.12 8.60) scale(1.0503 1.0175)" font-size="19">2</text><text transform="translate(23.35 0.00) scale(0.9662 1.1530)" font-size="27">(</text><text transform="translate(35.67 0.00) scale(0.9966 1.1108)" font-size="27" font-style="italic">A</text><path d="M54.40 -14.6H65.40" stroke="#000" stroke-width="1.1"/><path d="M76.40 -6.75H93.20M84.80 -15.6V2.1" stroke="#000" stroke-width="1.15" fill="none"/><text transform="translate(104.37 0.00) scale(0.9966 1.1108)" font-size="27" font-style="italic">A</text><path d="M123.70 -14.9H135.70M129.70 -21.4V-8.4" stroke="#000" stroke-width="1.0" fill="none"/><text transform="translate(138.97 0.00) scale(0.9518 1.1530)" font-size="27">)</text></g>
</g>
</svg>
</body></html>
